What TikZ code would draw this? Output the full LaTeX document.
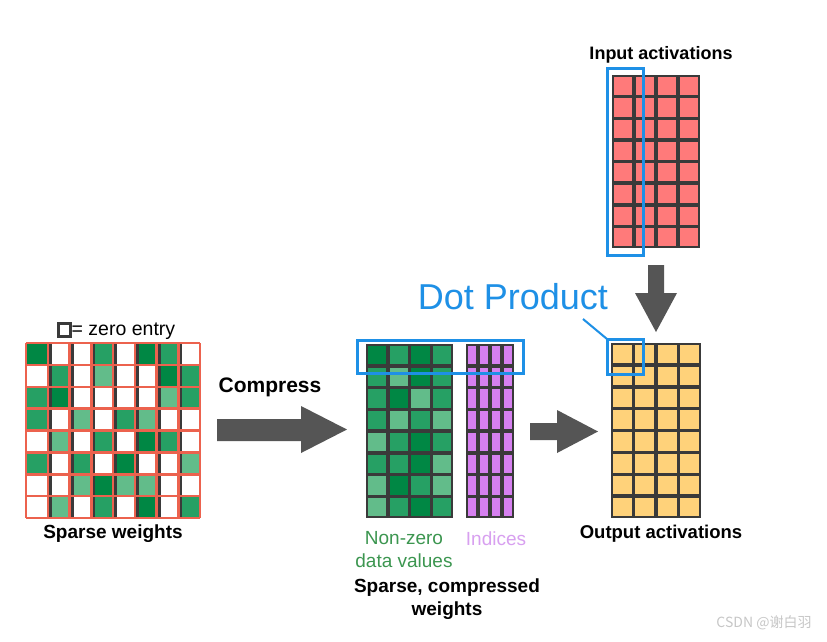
\documentclass[tikz,border=0pt]{standalone}
\usepackage{fontspec}
\setmainfont{Liberation Sans}
\newfontfamily\cjkfont{Noto Sans CJK SC}
\definecolor{sD}{RGB}{0,135,68}
\definecolor{sM}{RGB}{38,160,100}
\definecolor{sL}{RGB}{98,188,138}
\definecolor{sW}{RGB}{255,255,255}
\definecolor{redline}{RGB}{236,98,78}
\definecolor{gridline}{RGB}{58,58,58}
\definecolor{pinkc}{RGB}{255,122,122}
\definecolor{yelc}{RGB}{255,210,122}
\definecolor{purc}{RGB}{214,128,240}
\definecolor{blu}{RGB}{30,144,230}
\definecolor{arrc}{RGB}{85,85,85}
\definecolor{gtext}{RGB}{60,150,80}
\definecolor{ptext}{RGB}{216,160,240}
\tikzset{
  gridbox/.style={draw=none,inner sep=0pt,outer sep=0pt},
  selbox/.style={draw=blu,line width=3pt,inner sep=0pt,outer sep=0pt},
  blockarrow/.style={fill=arrc},
  boldlabel/.style={font=\bfseries\fontsize{19}{23}\selectfont,inner sep=0pt,align=center},
}
\begin{document}
\begin{tikzpicture}[x=1pt,y=-1pt]
\useasboundingbox (0,0) rectangle (827,641);
\fill[white] (0,0) rectangle (827,641);

% ---------- Sparse weights ----------
\foreach \row [count=\r from 0] in {{D,W,W,M,W,D,M,W},{W,M,W,L,W,W,D,M},{M,D,W,W,W,W,L,M},{M,W,L,W,M,L,W,W},{W,L,W,M,W,D,M,W},{M,W,M,W,D,W,W,L},{W,W,L,D,L,L,W,W},{W,L,W,M,W,D,W,M}}{
  \foreach \c [count=\k from 0] in \row {
    \fill[s\c] ({26+\k*21.75},{343+\r*21.875}) rectangle ++(21.75,21.875);
    \ifnum\k>0
      \fill[gridline] ({26+\k*21.75},{343+\r*21.875}) rectangle ++(4.2,21.875);
    \fi
  }
}
\foreach \i in {0,...,8}{
  \draw[redline,line width=2.5pt] ({26+\i*21.75},343) -- ++(0,175);
  \draw[redline,line width=2.5pt] (26,{343+\i*21.875}) -- ++(174,0);
}
\node[gridbox,minimum width=174pt,minimum height=175pt] (sparse) at (113,430.5) {};
\node[boldlabel] (sparselbl) at (113,534) {Sparse weights};
\node[draw=gridline,line width=3pt,minimum width=12pt,minimum height=13pt,inner sep=0pt] (zerobox) at (64,330) {};
\node[anchor=west,inner sep=0pt,font=\fontsize{19.5}{23}\selectfont] (zerolbl) at (71.5,331) {= zero entry};

% ---------- Compress arrow ----------
\fill[blockarrow] (217,419) -- (301,419) -- (301,406) -- (347,429.5) -- (301,453) -- (301,441) -- (217,441) -- cycle;
\node[boldlabel,font=\bfseries\fontsize{21}{25}\selectfont] (compress) at (270,387) {Compress};

% ---------- Compressed values ----------
\fill[gridline] (366,344) rectangle (453,518);
\foreach \row [count=\r from 0] in {{D,M,D,M},{M,L,D,M},{M,D,L,M},{M,L,M,L},{L,M,D,M},{M,M,D,L},{L,D,M,L},{L,M,D,M}}{
  \foreach \c [count=\k from 0] in \row {
    \fill[s\c] ({366+\k*21.75+1.75},{344+\r*21.75+1.75}) rectangle ++(18.25,18.25);
  }
}
\node[gridbox,minimum width=87pt,minimum height=174pt] (values) at (409.5,431) {};
% indices
\fill[gridline] (466,344) rectangle (514,518);
\foreach \r in {0,...,7}{
  \foreach \k in {0,...,3}{
    \fill[purc] ({466+\k*12+1.75},{344+\r*21.75+1.75}) rectangle ++(8.5,18.25);
  }
}
\node[gridbox,minimum width=48pt,minimum height=174pt] (indices) at (490,431) {};
\node[selbox,minimum width=166pt,minimum height=33pt] (rowsel) at (440,356.5) {};

\node[inner sep=0pt,align=center,text=gtext,font=\fontsize{19}{23}\selectfont] (nzlbl) at (404,549.5) {Non-zero\\data values};
\node[inner sep=0pt,text=ptext,font=\fontsize{19}{23}\selectfont] (idxlbl) at (496,539) {Indices};
\node[boldlabel,text depth=0pt] (complbl) at (447,597) {Sparse, compressed\\weights};

% ---------- small right arrow ----------
\fill[blockarrow] (530,423) -- (557,423) -- (557,410) -- (598,431.5) -- (557,453) -- (557,440) -- (530,440) -- cycle;

% ---------- Input activations ----------
\fill[gridline] (612,75) rectangle (700,248);
\foreach \r in {0,...,7}{
  \foreach \k in {0,...,3}{
    \fill[pinkc] ({612+\k*22+1.75},{75+\r*21.625+1.75}) rectangle ++(18.5,18.125);
  }
}
\node[gridbox,minimum width=88pt,minimum height=173pt] (input) at (656,161.5) {};
\node[selbox,minimum width=36pt,minimum height=187pt] (colsel) at (625,161.5) {};
\node[boldlabel,font=\bfseries\fontsize{18}{22}\selectfont] (inlbl) at (661,55) {Input activations};

% ---------- down arrow ----------
\fill[blockarrow] (648,265) -- (664,265) -- (664,293) -- (677,293) -- (656,332) -- (635,293) -- (648,293) -- cycle;

% ---------- Output activations ----------
\fill[gridline] (611,343) rectangle (701,518);
\foreach \r in {0,...,7}{
  \foreach \k in {0,...,3}{
    \fill[yelc] ({611+\k*22.5+1.75},{343+\r*21.875+1.75}) rectangle ++(19,18.375);
  }
}
\node[gridbox,minimum width=90pt,minimum height=175pt] (output) at (656,430.5) {};
\node[selbox,minimum width=36pt,minimum height=35pt] (outsel) at (625,356.5) {};
\node[boldlabel,font=\bfseries\fontsize{18.5}{22}\selectfont] (outlbl) at (661,534) {Output activations};

% ---------- Dot product ----------
\node[inner sep=0pt,text=blu,font=\fontsize{36}{42}\selectfont] (dotlbl) at (513,297) {Dot Product};
\coordinate (dpstart) at (583,319);
\draw[blu,line width=2pt] (dpstart) -- (outsel.north west);

% ---------- watermark ----------
\node[inner sep=0pt,text=black!22,font=\cjkfont\fontsize{14}{16}\selectfont] (wm) at (764,623) {CSDN @谢白羽};
\end{tikzpicture}
\end{document}
